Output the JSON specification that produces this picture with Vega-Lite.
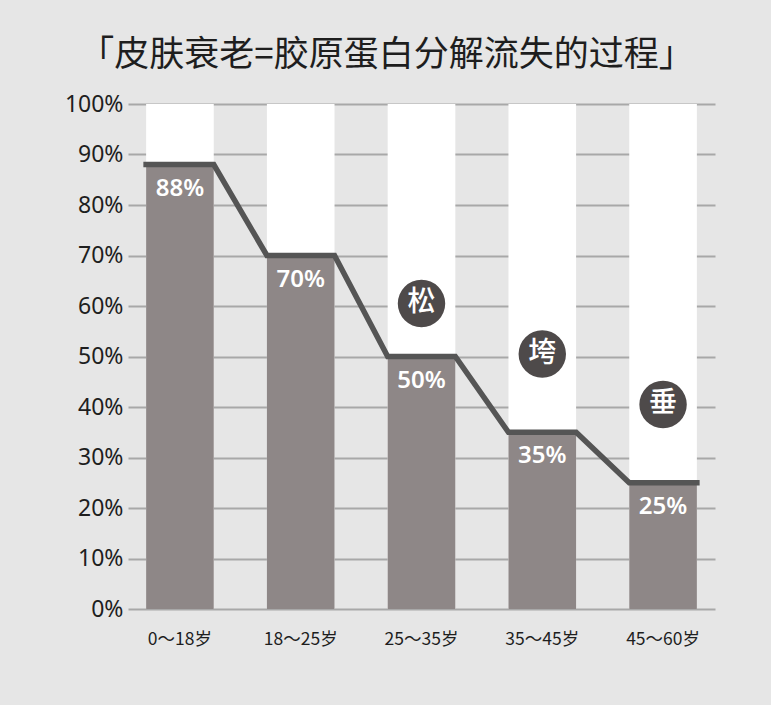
{
  "$schema": "https://vega.github.io/schema/vega-lite/v6.json",
  "autosize": {"type": "none"},
  "padding": {"left": 128, "top": 104, "right": 56, "bottom": 96},
  "width": 587,
  "height": 505,
  "background": "#e6e6e6",
  "title": {
    "text": "「皮肤衰老=胶原蛋白分解流失的过程」",
    "font": "Noto Sans CJK SC",
    "fontSize": 35,
    "fontWeight": "normal",
    "color": "#1e1e1e",
    "anchor": "middle",
    "frame": "group",
    "dx": -35,
    "offset": 20
  },
  "config": {
    "view": {"stroke": null},
    "font": "Noto Sans CJK SC"
  },
  "datasets": {
    "ages": [
      {"age": "0～18岁", "collagen": 88},
      {"age": "18～25岁", "collagen": 70},
      {"age": "25～35岁", "collagen": 50},
      {"age": "35～45岁", "collagen": 35},
      {"age": "45～60岁", "collagen": 25}
    ],
    "path": [
      {"age": "0～18岁", "edge": "start", "collagen": 88},
      {"age": "0～18岁", "edge": "end", "collagen": 88},
      {"age": "18～25岁", "edge": "start", "collagen": 70},
      {"age": "18～25岁", "edge": "end", "collagen": 70},
      {"age": "25～35岁", "edge": "start", "collagen": 50},
      {"age": "25～35岁", "edge": "end", "collagen": 50},
      {"age": "35～45岁", "edge": "start", "collagen": 35},
      {"age": "35～45岁", "edge": "end", "collagen": 35},
      {"age": "45～60岁", "edge": "start", "collagen": 25},
      {"age": "45～60岁", "edge": "end", "collagen": 25}
    ],
    "badges": [
      {"age": "25～35岁", "level": 60.5, "word": "松"},
      {"age": "35～45岁", "level": 50.5, "word": "垮"},
      {"age": "45～60岁", "level": 40.5, "word": "垂"}
    ]
  },
  "encoding": {
    "x": {
      "field": "age",
      "type": "nominal",
      "sort": null,
      "title": null,
      "scale": {"paddingInner": 0.44, "paddingOuter": 0.15},
      "axis": {
        "labelAngle": 0,
        "ticks": false,
        "domain": false,
        "grid": false,
        "labelFontSize": 17.5,
        "labelColor": "#1e1e1e",
        "labelPadding": 21
      }
    }
  },
  "resolve": {"scale": {"xOffset": "independent"}},
  "layer": [
    {
      "data": {"name": "ages"},
      "mark": {"type": "bar", "color": "#ffffff"},
      "encoding": {
        "y": {
          "datum": 100,
          "type": "quantitative",
          "scale": {"domain": [0, 100]},
          "title": null,
          "axis": {
            "values": [0, 10, 20, 30, 40, 50, 60, 70, 80, 90, 100],
            "labelExpr": "datum.value + '%'",
            "grid": true,
            "ticks": false,
            "domain": false,
            "labelFontSize": 23,
            "labelFont": "Noto Sans",
            "labelColor": "#1e1e1e",
            "labelPadding": 5,
            "gridColor": "#a8a8a8",
            "gridWidth": 2
          }
        }
      }
    },
    {
      "data": {"name": "ages"},
      "mark": {"type": "bar", "color": "#8e8787"},
      "encoding": {
        "y": {"field": "collagen", "type": "quantitative", "title": null}
      }
    },
    {
      "data": {"name": "ages"},
      "mark": {"type": "rule", "color": "#a8a8a8", "strokeWidth": 2},
      "encoding": {"y": {"datum": 0, "type": "quantitative", "title": null}}
    },
    {
      "data": {"name": "path"},
      "mark": {"type": "line", "color": "#555555", "strokeWidth": 5.5, "strokeJoin": "miter", "strokeCap": "square"},
      "encoding": {
        "xOffset": {
          "field": "edge",
          "type": "nominal",
          "sort": ["start", "end"],
          "scale": {"type": "point", "padding": 0}
        },
        "y": {"field": "collagen", "type": "quantitative", "title": null}
      }
    },
    {
      "data": {"name": "ages"},
      "mark": {
        "type": "text",
        "color": "#ffffff",
        "fontSize": 24,
        "fontWeight": 600,
        "font": "Noto Sans",
        "baseline": "middle",
        "dy": 24,
        "text": {"expr": "datum.collagen + '%'"}
      },
      "encoding": {
        "y": {"field": "collagen", "type": "quantitative", "title": null}
      }
    },
    {
      "data": {"name": "badges"},
      "mark": {"type": "point", "filled": true, "opacity": 1, "color": "#4e4a4a", "size": 2250},
      "encoding": {
        "y": {"field": "level", "type": "quantitative", "title": null}
      }
    },
    {
      "data": {"name": "badges"},
      "mark": {
        "type": "text",
        "color": "#ffffff",
        "fontSize": 28,
        "fontWeight": 500,
        "baseline": "middle"
      },
      "encoding": {
        "y": {"field": "level", "type": "quantitative", "title": null},
        "text": {"field": "word", "type": "nominal"}
      }
    }
  ]
}
